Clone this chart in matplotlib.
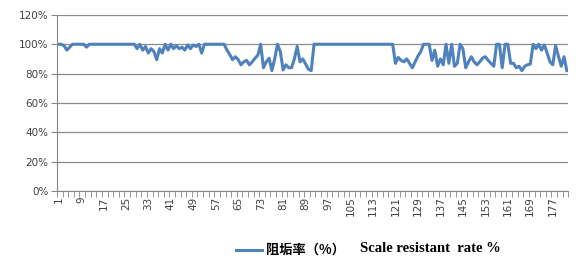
import numpy as np
import matplotlib.pyplot as plt
from matplotlib.lines import Line2D

# 阻垢率 (%) per sample
rate = (
    [100, 100, 99, 96, 98, 100, 100, 100, 100, 100, 98]      # 1-11
    + [100] * 17                                               # 12-28
    + [97, 100, 96, 98.5, 94, 97, 95, 89.5, 97, 94, 100, 96,   # 29-40
       100, 97, 99, 97, 98, 96, 99.5, 97, 99.5, 98.5, 100, 94]  # 41-52
    + [100] * 8                                                # 53-60
    + [96, 93, 89.5, 91.5, 89.5, 86, 88, 89, 86, 88,           # 61-70
       90.5, 92.5, 100, 84, 88, 90.5, 82, 90, 100, 95,         # 71-80
       82.5, 86, 84, 84, 90, 98.5, 88, 90, 86.5, 83, 82]       # 81-91
    + [100] * 29                                               # 92-120
    + [87, 91, 89, 88, 90, 87, 84, 88, 92, 95,                 # 121-130
       100, 100, 100, 89, 96, 85, 90, 86, 100, 87,             # 131-140
       100, 85, 87, 100, 97, 84, 88, 91.5, 88, 86,             # 141-150
       88, 90.5, 91.5, 89, 87, 85, 100, 100, 84, 100,          # 151-160
       100, 87, 87, 84, 85, 82, 85, 86, 86.5, 100,             # 161-170
       97, 100, 96, 99.5, 94, 88, 86, 99, 92, 85,              # 171-180
       91.5, 82]                                               # 181-182
)
x = np.arange(1, len(rate) + 1)
xtick_labels = list(range(1, len(rate) + 1, 8))
yticks = [0, 20, 40, 60, 80, 100, 120]

fig = plt.figure(figsize=(5.77, 2.76), dpi=100)
ax = fig.add_axes([0.0988, 0.308, 0.886, 0.638])

ax.plot(x, rate, color='#4F81BD', lw=2.2, solid_joinstyle='round')

ax.set_xlim(0.5, len(rate) + 0.5)
ax.set_ylim(0, 120)
ax.set_yticks(yticks)
ax.set_yticklabels([f'{v}%' for v in yticks], fontsize=7.5, color='#404040')
ax.yaxis.grid(True, color='#8c8c8c', lw=0.9)
ax.set_axisbelow(True)

ax.set_xticks(xtick_labels)
ax.set_xticklabels([str(v) for v in xtick_labels], rotation=90, fontsize=7.5, color='#404040')
ax.set_xticks(np.arange(0.5, len(rate) + 1, 2), minor=True)
ax.tick_params(axis='x', which='major', length=0, pad=4)
ax.tick_params(axis='x', which='minor', length=4, color='#868686')
ax.tick_params(axis='y', length=4, color='#868686', pad=2)

for s in ['top', 'right']:
    ax.spines[s].set_visible(False)
for s in ['left', 'bottom']:
    ax.spines[s].set_color('#868686')

# legend at the bottom
fig.add_artist(Line2D([236 / 577, 262 / 577], [1 - 250 / 276] * 2,
                      color='#4F81BD', lw=2.2))
fig.text(266 / 577, 1 - 250 / 276, '阻垢率（%）', fontsize=9.5, fontweight='bold',
         family=['Noto Sans CJK SC', 'DejaVu Sans'], va='center', ha='left')
fig.text(360 / 577, 1 - 248 / 276, 'Scale resistant  rate %', fontsize=10.5,
         fontweight='bold', family='Liberation Serif', va='center', ha='left')

fig.savefig('out.png', dpi=100)
